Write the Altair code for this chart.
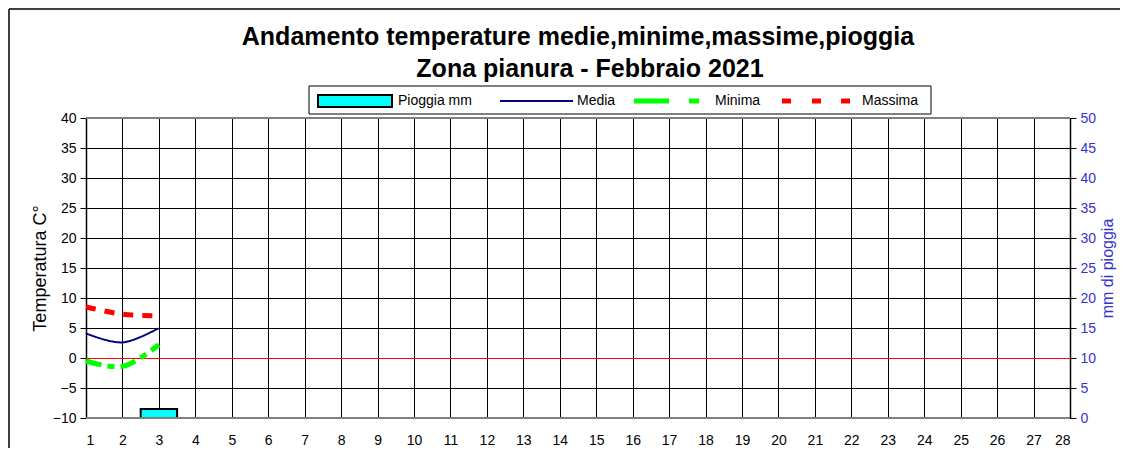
import altair as alt
import pandas as pd

# ---- data ----
days = [1, 2, 3]
media = [4.1, 2.6, 5.0]
minima = [-0.5, -1.4, 2.2]
massima = [8.5, 7.3, 7.0]
pioggia = [0.0, 0.0, 1.5]

series_names = ["Media", "Minima", "Massima"]
series_values = [media, minima, massima]
series_colors = ["#000080", "#00ff00", "#ff0000"]
series_dash = [[1, 0], [16, 6, 7, 6], [10, 9]]
series_width = [2, 5, 5]

x_ticks = list(range(1, 29))
temp_ticks = list(range(-10, 41, 5))
rain_ticks = list(range(0, 51, 5))

title_lines = ["Andamento temperature medie,minime,massime,pioggia",
               "Zona pianura - Febbraio 2021"]
legend_labels = ["Pioggia mm", "Media", "Minima", "Massima"]

FONT = "Liberation Sans"
BLUE = "#3333cc"

temp_rows = []
for name, vals in zip(series_names, series_values):
    for d, v in zip(days, vals):
        temp_rows.append({"giorno": d, "serie": name, "temp": v})
temp_df = pd.DataFrame(temp_rows)
rain_df = pd.DataFrame({"giorno": days, "pioggia": pioggia})
one = pd.DataFrame({"k": [0]})
ref_df = pd.DataFrame({"giorno": [1, 28], "zero": [0, 0], "top": [40, 40], "bottom": [-10, -10]})

x_scale = alt.Scale(domain=[1, 28], nice=False, zero=False)
x_axis = alt.Axis(values=x_ticks, grid=True, gridColor="black", gridWidth=1,
                  gridOpacity=1, domain=False, ticks=False, labelPadding=15,
                  labelFontSize=14, labelColor="black", labelFont=FONT,
                  labelAngle=0, title=None)
temp_scale = alt.Scale(domain=[-10, 40], nice=False, zero=False)
temp_axis = alt.Axis(values=temp_ticks, grid=True, gridColor="black",
                     gridWidth=1, gridOpacity=1, domain=True,
                     domainColor="black", domainWidth=1.5, ticks=True,
                     tickColor="black", tickSize=6, labelPadding=4,
                     labelFontSize=14, labelColor="black", labelFont=FONT,
                     title="Temperatura C°", titleFont=FONT, titleFontSize=18,
                     titleFontWeight="normal", titleColor="black",
                     titlePadding=3)

X = alt.X("giorno:Q", scale=x_scale, axis=x_axis)


def Y(field):
    return alt.Y(field, type="quantitative", scale=temp_scale, axis=temp_axis)


temp_layers = []
# gray frame lines at top/bottom of temperature range and red zero line
for field, col, w, off in [("top", "#808080", 2, 0), ("bottom", "#808080", 2, 0),
                           ("zero", "#ff0000", 1, 0.5)]:
    temp_layers.append(
        alt.Chart(ref_df).mark_line(color=col, strokeWidth=w, yOffset=off)
        .encode(x=X, y=Y(field)))
for name, col, dash, w in zip(series_names, series_colors, series_dash, series_width):
    temp_layers.append(
        alt.Chart(temp_df).transform_filter(alt.datum.serie == name)
        .mark_line(color=col, strokeWidth=w, strokeDash=dash,
                   interpolate="catmull-rom", strokeCap="butt")
        .encode(x=X, y=Y("temp")))

temp_chart = alt.layer(*temp_layers)

rain_axis = alt.Axis(orient="right", values=rain_ticks, grid=False, domain=True,
                     domainColor="black", domainWidth=1.5, ticks=True,
                     tickColor="black", tickSize=6, labelPadding=4,
                     labelFontSize=14, labelColor=BLUE, labelFont=FONT,
                     title="mm di pioggia", titleFont=FONT, titleFontSize=16,
                     titleFontWeight="normal", titleColor=BLUE, titleAngle=270,
                     titleBaseline="top", titlePadding=4)

rain_chart = (
    alt.Chart(rain_df)
    .transform_filter(alt.datum.pioggia > 0)
    .transform_calculate(x0="datum.giorno - 0.5", x1="datum.giorno + 0.5")
    .mark_rect(color="#00ffff", stroke="black", strokeWidth=2)
    .encode(
        x=alt.X("x0:Q", scale=x_scale, axis=x_axis),
        x2="x1:Q",
        y=alt.Y("pioggia:Q", scale=alt.Scale(domain=[0, 50], nice=False), axis=rain_axis),
        y2=alt.Y2Datum(0),
    )
)

# ---- decorations: titles, legend, frame (pixel positions relative to plot) ----
deco = []
deco.append(alt.Chart(one).mark_text(text=title_lines[0], font=FONT, fontSize=25,
                                     fontWeight="bold", align="center",
                                     baseline="alphabetic", color="black")
            .encode(x=alt.value(492), y=alt.value(-73)))
deco.append(alt.Chart(one).mark_text(text=title_lines[1], font=FONT, fontSize=25,
                                     fontWeight="bold", align="center",
                                     baseline="alphabetic", color="black")
            .encode(x=alt.value(504), y=alt.value(-41)))
deco.append(alt.Chart(one).mark_rect(fill="white", stroke="black", strokeWidth=1)
            .encode(x=alt.value(223), x2=alt.value(845), y=alt.value(-32), y2=alt.value(-4)))
deco.append(alt.Chart(one).mark_rect(fill="#00ffff", stroke="black", strokeWidth=2)
            .encode(x=alt.value(232), x2=alt.value(306), y=alt.value(-23), y2=alt.value(-11)))
deco.append(alt.Chart(one).mark_rule(color="#000080", strokeWidth=2)
            .encode(x=alt.value(414), x2=alt.value(487), y=alt.value(-17)))
for a, b in [(548, 583), (603, 613)]:
    deco.append(alt.Chart(one).mark_rule(color="#00ff00", strokeWidth=5)
                .encode(x=alt.value(a), x2=alt.value(b), y=alt.value(-17)))
for a, b in [(696, 705), (726, 735), (755, 764)]:
    deco.append(alt.Chart(one).mark_rule(color="#ff0000", strokeWidth=5)
                .encode(x=alt.value(a), x2=alt.value(b), y=alt.value(-17)))
for lab, px in zip(legend_labels, [312, 491, 629, 776]):
    deco.append(alt.Chart(one).mark_text(text=lab, font=FONT, fontSize=14,
                                         align="left", baseline="middle", color="black")
                .encode(x=alt.value(px), y=alt.value(-17)))
deco.append(alt.Chart(one).mark_rule(color="black", strokeWidth=1.5)
            .encode(x=alt.value(-77), y=alt.value(-109), y2=alt.value(340)))
deco.append(alt.Chart(one).mark_rule(color="black", strokeWidth=1.5)
            .encode(x=alt.value(-77), x2=alt.value(1034), y=alt.value(-109)))

chart = (
    alt.layer(rain_chart, temp_chart, *deco)
    .resolve_scale(y="independent")
    .properties(width=984, height=300,
                autosize=alt.AutoSizeParams(type="none"),
                padding={"left": 78, "top": 110, "right": 50, "bottom": 30},
                background="white")
    .configure_view(stroke=None)
)

chart.save("out.html", embed_options={"renderer": "svg", "actions": False})
